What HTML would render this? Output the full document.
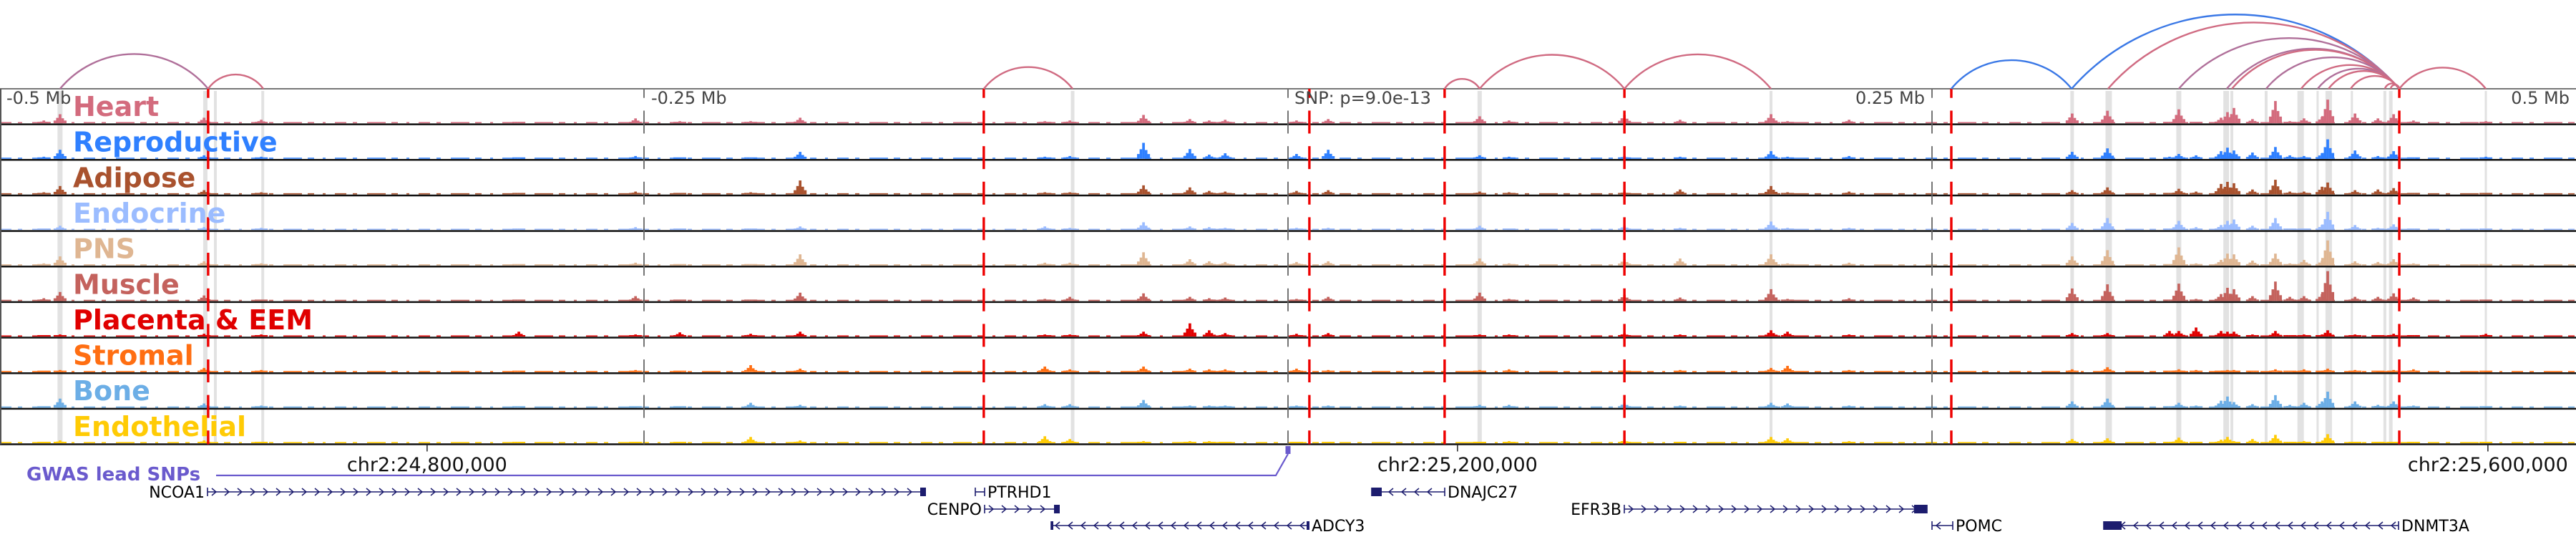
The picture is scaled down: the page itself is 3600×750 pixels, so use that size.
<!DOCTYPE html>
<html><head><meta charset="utf-8">
<style>
html,body{margin:0;padding:0;background:#fff;}
svg{display:block;font-family:"DejaVu Sans","Liberation Sans",sans-serif;}
</style></head>
<body>
<svg id="fig" width="3600" height="750" viewBox="0 0 3600 750" xmlns="http://www.w3.org/2000/svg">
<g id="bands"></g>
<g id="tracks"></g>
<g id="vlines"></g>
<g id="arcs"></g>
<g id="labels"></g>
<g id="axis"></g>
<g id="genes"></g>
</svg>
<script>
// ---- data ----
const tissues = ["Heart","Reproductive","Adipose","Endocrine","PNS","Muscle","Placenta & EEM","Stromal","Bone","Endothelial"];
const tissueColors = ["#d36b7d","#2f80ff","#a9522e","#9bbcff","#dfb692","#c4625d","#e00000","#ff6e12","#6caee6","#ffcb05"];
const peakKb = [-483,-476.7,-420.8,-398.6,-298.6,-253.3,-236.1,-208.6,-189.4,-94.4,-84.7,-56.1,-38.1,-30.6,-24.4,3.3,15.6,74.4,85.8,130.6,152.2,187.5,193.9,217.8,304.4,318.1,342.2,345.8,352.5,362.2,364.7,367.2,374.4,383.3,388.9,394.4,401.4,403.6,414.2,423.1,429.2,436.9,465];
const heart = [4,13,8,5,2,7,3,3,8,3,4,12,6,4,5,4,6,10,4,12,5,13,3,5,14,18,2,20,2,8,16,22,6,32,3,7,9,34,14,7,13,4,3];
const reproductive = [3,13,5,3,2,4,2,2,10,3,4,23,14,6,8,7,13,5,3,4,3,11,3,4,10,15,3,7,5,11,16,12,9,17,5,4,8,28,12,4,11,2,3];
const adipose = [3,12,6,3,2,4,2,3,20,3,3,13,10,5,4,5,6,4,3,4,7,12,3,4,6,10,2,8,4,15,18,16,7,21,4,4,11,17,6,7,9,2,2];
const endocrine = [2,6,4,3,2,4,2,2,5,5,3,11,5,4,3,3,3,6,2,6,3,12,3,3,10,17,2,13,4,7,13,15,6,17,2,2,7,26,7,3,8,2,2];
const pns = [3,13,6,3,2,4,2,2,16,4,4,19,9,6,5,5,6,10,3,9,10,16,3,4,13,22,2,26,3,8,17,16,7,17,3,8,7,36,6,5,9,3,2];
const muscle = [4,13,8,2,2,7,2,2,12,3,6,11,6,4,5,3,6,12,3,9,5,17,3,4,18,24,2,25,3,10,19,17,7,28,6,7,10,43,6,6,11,5,2];
const placenta = [2,3,4,3,7,3,6,4,7,3,3,7,19,9,5,4,5,3,3,5,3,9,7,3,5,5,8,8,13,8,7,7,3,8,2,3,3,9,3,2,4,2,4];
const stromal = [2,3,6,3,2,3,2,10,5,8,4,8,5,4,4,5,3,3,4,3,3,6,9,3,4,7,2,4,3,2,3,3,2,4,2,4,2,5,3,2,3,4,2];
const bone = [2,13,6,3,2,2,2,7,4,5,5,11,3,3,3,3,3,4,4,7,3,7,6,3,9,13,2,7,3,10,16,8,5,18,4,7,9,23,9,4,9,3,2];
const endothelial = [2,4,4,2,2,2,2,9,4,10,6,3,3,3,2,2,2,2,3,5,2,9,7,3,6,7,2,8,2,5,9,3,6,12,2,3,2,13,2,2,2,2,2];
const arcStartKb = [-476.7,-419.2,-118.1,60.8,74.4,130.6,257.5,304.2,318.3,345.8,364.4,366.4,379.7,393.3,399.7,403.9,412.5,425.8,428.1,431.4];
const arcEndKb   = [-419.2,-397.8,-83.6,74.4,130.6,187.5,304.2,431.4,431.4,431.4,431.4,431.4,431.4,431.4,431.4,431.4,431.4,431.4,431.4,465];
const arcType    = ["m","p","p","p","p","p","b","b","p","m","m","p","m","p","m","p","p","p","p","p"];
const redLineKb = [-419.2,-118.1,8.3,60.8,130.6,257.5,431.4];
const greyLineKb = [-250,0,250];
const bandKb = [-476.7,-420.3,-416.4,-398,-83.6,74.4,187.5,304.4,318.6,345.8,364.2,366.4,379.7,393.1,399.7,404,413,425.8,428.1,465];
const bandW  = [7,6,4,4,5,6,4,5,9,7,8,4,4,9,3,9,3,4,5,3];
const axisTickKb = [-334.2,65.8,465.8];
const axisTickLabels = ["chr2:24,800,000","chr2:25,200,000","chr2:25,600,000"];

// ---- scales ----
const NS="http://www.w3.org/2000/svg";
const X0=1800, PXKB=3.6;
const x = kb => X0 + kb*PXKB;
const TOP=124, TH=49.65, NT=10;
const yBase = i => TOP + (i+1)*TH - 1.5;
const yScale = v => v*(TH-5)/46;
function mk(tag, attrs, parent){const e=document.createElementNS(NS,tag);for(const k in attrs)e.setAttribute(k,attrs[k]);parent.appendChild(e);return e;}
const gB=document.getElementById('bands'),gT=document.getElementById('tracks'),gV=document.getElementById('vlines'),gA=document.getElementById('arcs'),gL=document.getElementById('labels'),gX=document.getElementById('axis'),gG=document.getElementById('genes');
const series=[heart,reproductive,adipose,endocrine,pns,muscle,placenta,stromal,bone,endothelial];

// bands
bandKb.forEach((k,i)=>{
  const r=mk('rect',{x:x(k)-bandW[i]/2,y:TOP+3,width:bandW[i],height:NT*TH-4,fill:'#e2e2e2'},gB);
  
  
});

// tracks
const shape=[0.3,0.6,1,0.55,0.3];
series.forEach((vals,t)=>{
  const g=mk('g',{},gT);
  
  
  const b=yBase(t);
  mk('line',{x1:0,x2:3600,y1:b-0.8,y2:b-0.8,stroke:tissueColors[t],'stroke-width':1.6,'stroke-dasharray':'16 9 6 14 26 8 9 12 4 13'},g);
  vals.forEach((v,i)=>{
    const cx=x(peakKb[i]);
    shape.forEach((f,j)=>{
      const h=Math.max(2,yScale(v)*f);
      const r=mk('rect',{x:cx+(j-2.5)*3.6,y:b-h,width:3.7,height:h,fill:tissueColors[t]},g);
      
      
    });
  });
  const sep=mk('line',{x1:0,x2:3600,y1:TOP+(t+1)*TH,y2:TOP+(t+1)*TH,stroke:'#111','stroke-width':2.5},gT);
  
  
});
const topLine=mk('line',{x1:0,x2:3600,y1:TOP,y2:TOP,stroke:'#777','stroke-width':2},gT);


const lb=mk('line',{x1:1,x2:1,y1:TOP,y2:TOP+NT*TH,stroke:'#555','stroke-width':2},gT);



// vertical lines
greyLineKb.forEach(k=>{
  const l=mk('line',{x1:x(k),x2:x(k),y1:TOP,y2:TOP+NT*TH,stroke:'#666','stroke-width':1.8,'stroke-dasharray':'32 17.65','stroke-dashoffset':19.2},gV);
  
  
});
redLineKb.forEach(k=>{
  const l=mk('line',{x1:x(k),x2:x(k),y1:TOP,y2:TOP+NT*TH,stroke:'#ee0000','stroke-width':3.4,'stroke-dasharray':'32 17.65','stroke-dashoffset':19.2},gV);
  
  
});

// arcs
const arcCol={p:'#d06b82',m:'#b0709a',b:'#3a78e6'};
arcStartKb.forEach((s,i)=>{
  const x1=x(s),x2=x(arcEndKb[i]),c=x2-x1,h=0.22*c+3;
  const r=(c*c/4+h*h)/(2*h);
  const p=mk('path',{d:`M${x1},${TOP} A${r},${r} 0 0 1 ${x2},${TOP}`,fill:'none',stroke:arcCol[arcType[i]],'stroke-width':2.4},gA);
  
  
});

// labels
tissues.forEach((n,t)=>{
  const tx=mk('text',{x:102,y:TOP+t*TH+38,fill:tissueColors[t],'font-size':38,'font-weight':'bold'},gL);
  tx.textContent=n;
  
  
});

// axis text in panel
[["-0.5 Mb",9,'start'],["-0.25 Mb",910,'start'],["SNP: p=9.0e-13",1809,'start'],["0.25 Mb",2690,'end'],["0.5 Mb",3591,'end']].forEach(a=>{
  const t=mk('text',{x:a[1],y:145,'font-size':24,fill:'#444','text-anchor':a[2]},gX);
  t.textContent=a[0];
  
  
});
axisTickKb.forEach((k,i)=>{
  const tk=mk('line',{x1:x(k),x2:x(k),y1:TOP+NT*TH,y2:TOP+NT*TH+10,stroke:'#222','stroke-width':1.5},gX);
  
  
  const t=mk('text',{x:x(k),y:658,'font-size':27,fill:'#111','text-anchor':'middle'},gX);
  t.textContent=axisTickLabels[i];
  
  
});

// GWAS
const gw=mk('text',{x:37,y:671,'font-size':26,'font-weight':'bold',fill:'#6a5acd'},gG);
gw.textContent='GWAS lead SNPs';


const gl=mk('path',{d:`M302,664 L1783,664 L1800,634`,fill:'none',stroke:'#6a5acd','stroke-width':2.2},gG);


const gm=mk('rect',{x:1796.5,y:623,width:7,height:11,fill:'#6a5acd'},gG);



// genes
const genes=[
 {n:'NCOA1',s:290,e:1293,str:1,row:0,side:'l',blocks:[[1286,1294]]},
 {n:'PTRHD1',s:1363,e:1376,str:-1,row:0,side:'r',blocks:[]},
 {n:'CENPO',s:1376,e:1479,str:1,row:1,side:'l',blocks:[[1473,1481]]},
 {n:'ADCY3',s:1469,e:1829,str:-1,row:2,side:'r',blocks:[[1469,1472],[1826,1830]]},
 {n:'DNAJC27',s:1917,e:2019,str:-1,row:0,side:'r',blocks:[[1917,1931]]},
 {n:'EFR3B',s:2270,e:2693,str:1,row:1,side:'l',blocks:[[2675,2693]]},
 {n:'POMC',s:2700,e:2729,str:-1,row:2,side:'r',blocks:[]},
 {n:'DNMT3A',s:2940,e:3352,str:-1,row:2,side:'r',blocks:[[2940,2965]]}
];
const rowY=[687,711,734];
const gc='#1c1c6e';
genes.forEach(g=>{
  const grp=mk('g',{},gG);
  
  
  const y=rowY[g.row];
  mk('line',{x1:g.s,x2:g.e,y1:y,y2:y,stroke:gc,'stroke-width':1.6},grp);
  mk('line',{x1:g.s,x2:g.s,y1:y-6,y2:y+6,stroke:gc,'stroke-width':1.6},grp);
  mk('line',{x1:g.e,x2:g.e,y1:y-6,y2:y+6,stroke:gc,'stroke-width':1.6},grp);
  for(let cx=g.s+9;cx<g.e-4;cx+=18){
    const d=g.str>0?`M${cx-3},${y-5} L${cx+3},${y} L${cx-3},${y+5}`:`M${cx+3},${y-5} L${cx-3},${y} L${cx+3},${y+5}`;
    mk('path',{d:d,fill:'none',stroke:gc,'stroke-width':1.5},grp);
  }
  g.blocks.forEach(b=>mk('rect',{x:b[0],y:y-6,width:b[1]-b[0],height:12,fill:gc},grp));
  const t=mk('text',{x:g.side==='l'?g.s-4:g.e+4,y:y+8,'font-size':22,fill:'#000','text-anchor':g.side==='l'?'end':'start'},grp);
  t.textContent=g.n;
});
</script>
</body></html>
